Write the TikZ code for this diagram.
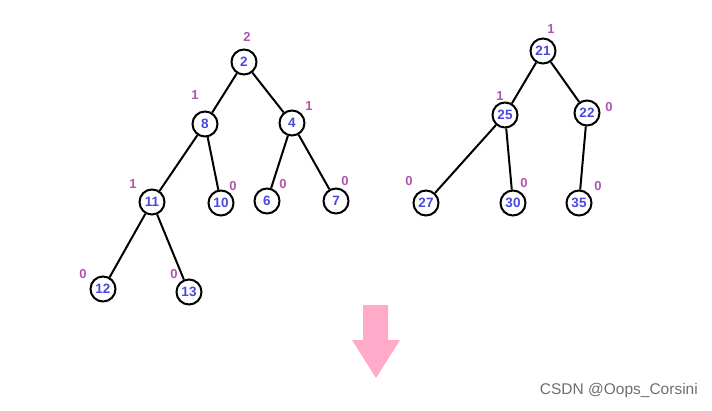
\documentclass[tikz,border=0pt]{standalone}
\usepackage{fontspec}
\setmainfont{Liberation Sans}
\definecolor{numblue}{RGB}{72,72,225}
\definecolor{balpurple}{RGB}{176,84,176}
\definecolor{arrowpink}{RGB}{255,170,200}
\definecolor{wmgray}{RGB}{110,110,110}
\begin{document}
\begin{tikzpicture}[x=1pt,y=-1pt,
  treenode/.style={circle,draw=black,line width=2pt,minimum size=25pt,inner sep=0pt,
    text=numblue,font=\fontsize{13.5}{14}\selectfont\bfseries},
  bal/.style={text=balpurple,inner sep=0pt,font=\fontsize{13}{14}\selectfont\bfseries},
  edge/.style={line width=2pt,black}]
\useasboundingbox (0,0) rectangle (712,410);
% left tree
\node[treenode] (n2) at (244,62) {2};
\node[treenode] (n8) at (205,124) {8};
\node[treenode] (n4) at (292,123) {4};
\node[treenode] (n11) at (152,202) {11};
\node[treenode] (n10) at (221,203) {10};
\node[treenode] (n6) at (267,201) {6};
\node[treenode] (n7) at (336,201) {7};
\node[treenode] (n12) at (103,289) {12};
\node[treenode] (n13) at (189,292) {13};
% right tree
\node[treenode] (n21) at (543,51) {21};
\node[treenode] (n25) at (505,115) {25};
\node[treenode] (n22) at (587,113) {22};
\node[treenode] (n27) at (426,203) {27};
\node[treenode] (n30) at (513,203) {30};
\node[treenode] (n35) at (579,203) {35};
% edges
\draw[edge] (n2) -- (n8);
\draw[edge] (n2) -- (n4);
\draw[edge] (n8) -- (n11);
\draw[edge] (n8) -- (n10);
\draw[edge] (n4) -- (n6);
\draw[edge] (n4) -- (n7);
\draw[edge] (n11) -- (n12);
\draw[edge] (n11) -- (n13);
\draw[edge] (n21) -- (n25);
\draw[edge] (n21) -- (n22);
\draw[edge] (n25) -- (n27);
\draw[edge] (n25) -- (n30);
\draw[edge] (n22) -- (n35);
% balance factors
\node[bal] (b2) at (247,37) {2};
\node[bal] (b8) at (195,95) {1};
\node[bal] (b4) at (309,106) {1};
\node[bal] (b11) at (133,184) {1};
\node[bal] (b10) at (233,186) {0};
\node[bal] (b6) at (283,184) {0};
\node[bal] (b7) at (345,181) {0};
\node[bal] (b12) at (83,274) {0};
\node[bal] (b13) at (174,274) {0};
\node[bal] (b21) at (551,29) {1};
\node[bal] (b25) at (500,96) {1};
\node[bal] (b22) at (609,107) {0};
\node[bal] (b27) at (409,181) {0};
\node[bal] (b30) at (524,183) {0};
\node[bal] (b35) at (598,186) {0};
% down arrow
\fill[arrowpink] (363,305) -- (388,305) -- (388,340) -- (400,340) -- (376,378) -- (352,340) -- (363,340) -- cycle;
% watermark
\node[text=wmgray,anchor=east,inner sep=0pt,font=\fontsize{15.5}{16}\selectfont] (wm) at (698,390) {CSDN @Oops\_Corsini};
\end{tikzpicture}
\end{document}
